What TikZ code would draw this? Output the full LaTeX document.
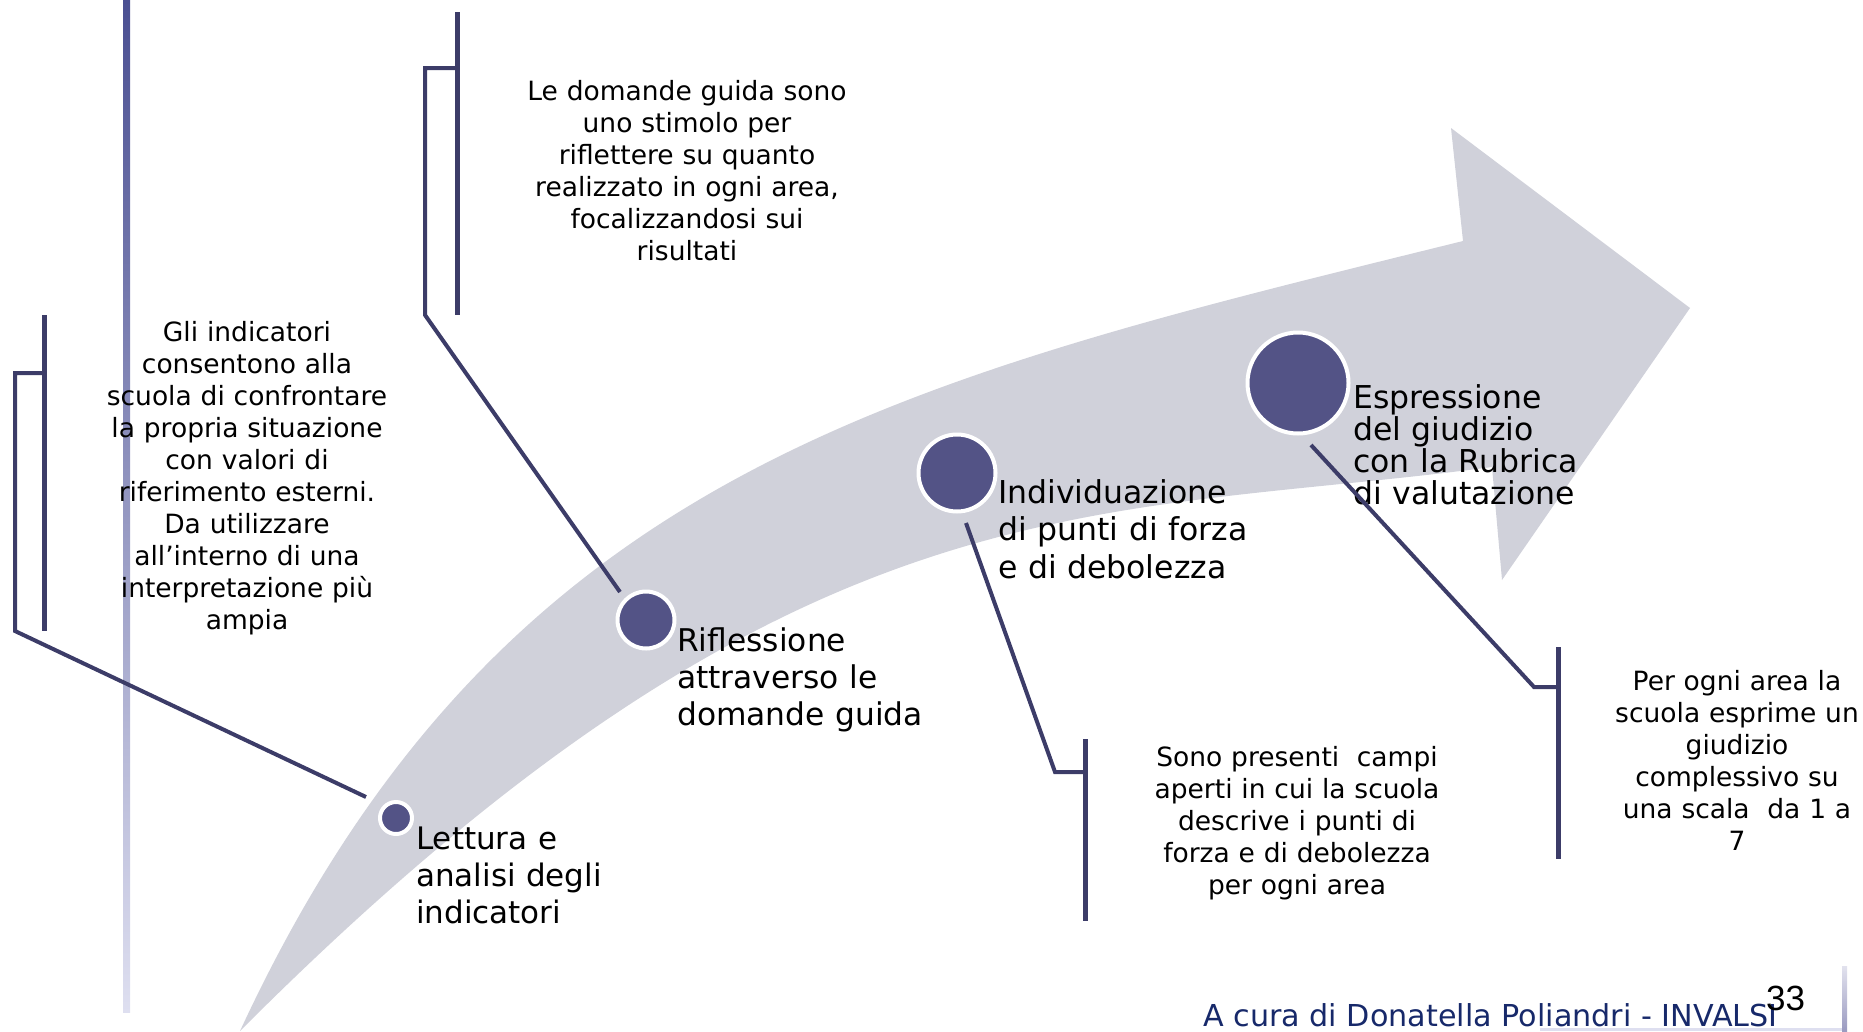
\documentclass[tikz,border=0pt]{standalone}
\usepackage{fontspec}
\setmainfont{DejaVu Sans}
\newfontfamily\arialf{Liberation Sans}
\usetikzlibrary{calc}
\definecolor{arrowgray}{HTML}{D0D1DA}
\definecolor{circfill}{HTML}{535386}
\definecolor{linecol}{HTML}{3C3C68}
\definecolor{footnavy}{HTML}{17296A}
\definecolor{bartop}{HTML}{4A4F92}
\definecolor{barbot}{HTML}{DEDFF0}
\definecolor{framebot}{HTML}{9A9AC0}
\definecolor{frametop}{HTML}{E2E2EE}
\begin{document}
\begin{tikzpicture}[x=1pt,y=-1pt,
  dot/.style={circle, fill=circfill, draw=white, line width=4pt, inner sep=0pt},
  lbl/.style={anchor=base west, align=left, inner sep=0pt, text width=400pt},
  desc/.style={anchor=base, align=center, inner sep=0pt, text width=400pt, font=\fontsize{26.5}{32}\selectfont},
  conn/.style={draw=linecol, line width=4pt},
  bracketbar/.style={draw=linecol, line width=5pt},
]
\useasboundingbox (0,0) rectangle (1863,1031);

% big curved arrow
\fill[arrowgray]
  (240,1031) .. controls (500,470) and (900,380) .. (1463,241)
  -- (1451,128) -- (1690,308) -- (1502,580) -- (1492,467)
  .. controls (1092,520) and (800,470) .. (240,1031)
  -- cycle;

% left gradient bar
\shade[top color=bartop, bottom color=barbot] (123,0) rectangle (130,1012);

% bottom right frame
\shade[top color=frametop, bottom color=framebot] (1842,966) rectangle (1847,1031);
\fill[barbot] (1540,1028) rectangle (1842,1031);

% circles
\node[dot, minimum size=32pt] (c1) at (396,818) {};
\node[dot, minimum size=57pt] (c2) at (646,620) {};
\node[dot, minimum size=77pt] (c3) at (957,473) {};
\node[dot, minimum size=101pt] (c4) at (1298,383) {};

% step labels
\node[lbl, font=\fontsize{31}{37}\selectfont] (l1) at (416,849) {Lettura e\\analisi degli\\indicatori};
\node[lbl, font=\fontsize{31.3}{37}\selectfont] (l2) at (677,651) {Riflessione\\attraverso le\\domande guida};
\node[lbl, font=\fontsize{31.5}{37.5}\selectfont] (l3) at (998,503) {Individuazione\\di punti di forza\\e di debolezza};
\node[lbl, font=\fontsize{31.5}{32}\selectfont] (l4) at (1353,408) {Espressione\\del giudizio\\con la Rubrica\\di valutazione};

% descriptions
\node[desc] (dA) at (247,341) {Gli indicatori\\consentono alla\\scuola di confrontare\\la propria situazione\\con valori di\\riferimento esterni.\\Da utilizzare\\all’interno di una\\interpretazione più\\ampia};
\node[desc] (dB) at (687,100) {Le domande guida sono\\uno stimolo per\\riflettere su quanto\\realizzato in ogni area,\\focalizzandosi sui\\risultati};
\node[desc] (dC) at (1297,766) {Sono presenti~ campi\\aperti in cui la scuola\\descrive i punti di\\forza e di debolezza\\per ogni area};
\node[desc] (dD) at (1737,690) {Per ogni area la\\scuola esprime un\\giudizio\\complessivo su\\una scala~ da 1 a\\7};

% bracket bars
\coordinate (bA1) at (44,315); \coordinate (bA2) at (44,631); \coordinate (sA) at (44,373);
\coordinate (bB1) at (457,12); \coordinate (bB2) at (457,315); \coordinate (sB) at (457,68);
\coordinate (bC1) at (1085,739); \coordinate (bC2) at (1085,921); \coordinate (sC) at (1085,772);
\coordinate (bD1) at (1558,647); \coordinate (bD2) at (1558,859); \coordinate (sD) at (1558,687);
\draw[bracketbar] (bA1) -- (bA2);
\draw[bracketbar] (bB1) -- (bB2);
\draw[bracketbar] (bC1) -- (bC2);
\draw[bracketbar] (bD1) -- (bD2);

% connectors
\draw[conn] ($(c1.center)+(-30,-21)$) -- (15,631) |- (sA);
\draw[conn] ($(c2.center)+(-26,-28)$) -- (425,315) |- (sB);
\draw[conn] ($(c3.center)+(9,50)$) -- (1055,772) -- (sC);
\draw[conn] ($(c4.center)+(13,62)$) -- (1534,687) -- (sD);

% footer
\node[anchor=base west, inner sep=0pt, text=footnavy, font=\fontsize{30.2}{36}\selectfont] (foot) at (1203,1026) {A cura di Donatella Poliandri - INVALSI};
\node[anchor=base west, inner sep=0pt, font=\arialf\fontsize{35}{42}\selectfont] (pg) at (1766,1010) {33};
\end{tikzpicture}
\end{document}
